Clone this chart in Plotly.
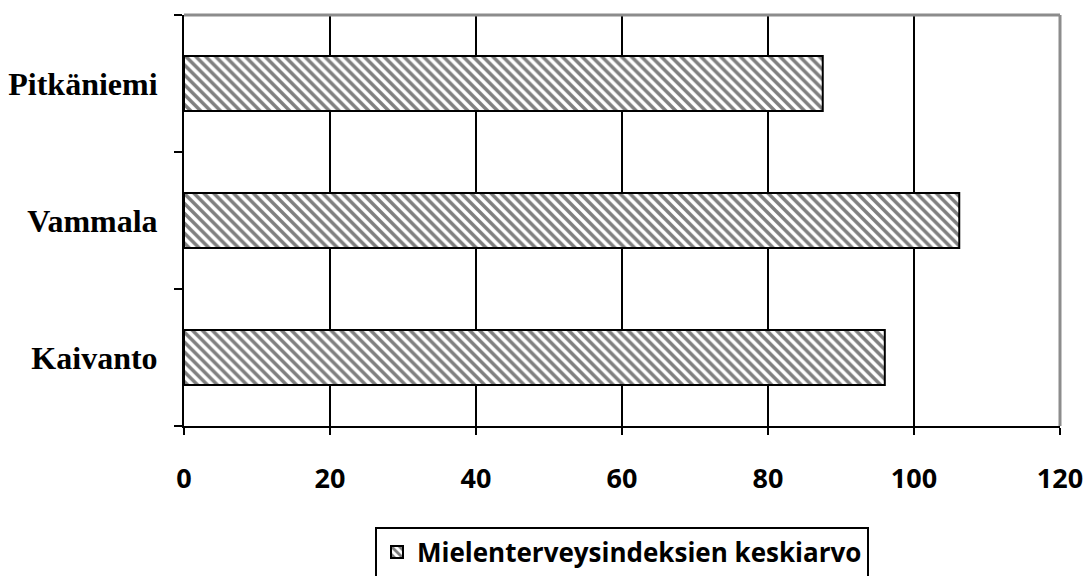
import plotly.graph_objects as go

categories = ["Kaivanto", "Vammala", "Pitkäniemi"]
values = [96.0, 106.2, 87.5]
series_name = "Mielenterveysindeksien keskiarvo"
x_ticks = [0, 20, 40, 60, 80, 100, 120]

fig = go.Figure()
fig.add_trace(go.Bar(
    y=categories, x=values, orientation="h", name=series_name,
    marker=dict(color="white",
                line=dict(color="black", width=2),
                pattern=dict(shape="\\", fgcolor="black", bgcolor="white",
                             size=7, solidity=0.5)),
    showlegend=True,
))

fig.update_layout(
    width=1088, height=576,
    margin=dict(l=184, r=28, t=15, b=150, autoexpand=False),
    paper_bgcolor="white", plot_bgcolor="white",
    bargap=0.6,
    showlegend=True,
    legend=dict(x=0.5, xanchor="center", y=-0.245, yanchor="top",
                orientation="h",
                bordercolor="black", borderwidth=2,
                font=dict(family="Open Sans", size=26, color="black", weight="bold")),
    xaxis=dict(range=[0, 120], tickvals=x_ticks, ticktext=[str(v) for v in x_ticks],
               showline=True, linecolor="black", linewidth=2,
               ticks="outside", ticklen=7, tickwidth=2, tickcolor="black",
               showgrid=True, gridcolor="black", gridwidth=2,
               zeroline=False, ticklabelstandoff=21, automargin=False,
               tickfont=dict(family="Open Sans", size=27, color="black", weight="bold")),
    yaxis=dict(categoryorder="array", categoryarray=categories,
               range=[-0.5, 2.5],
               showline=True, linecolor="black", linewidth=2,
               ticks="outside", ticklen=8, tickwidth=2, tickcolor="black",
               tickson="boundaries", showgrid=False, zeroline=False,
               ticklabelstandoff=18, automargin=False,
               tickfont=dict(family="Liberation Serif", size=32, color="black", weight="bold")),
)

fig.add_shape(type="line", xref="paper", yref="paper", x0=0, x1=1, y0=1, y1=1,
              line=dict(color="#8c8c8c", width=3), layer="above")
fig.add_shape(type="line", xref="paper", yref="paper", x0=1, x1=1, y0=0, y1=1,
              line=dict(color="#8c8c8c", width=3), layer="above")

fig.write_html("out.html",
               config={"displayModeBar": False},
               post_script="document.body.style.margin='0';document.body.style.overflow='hidden';")
